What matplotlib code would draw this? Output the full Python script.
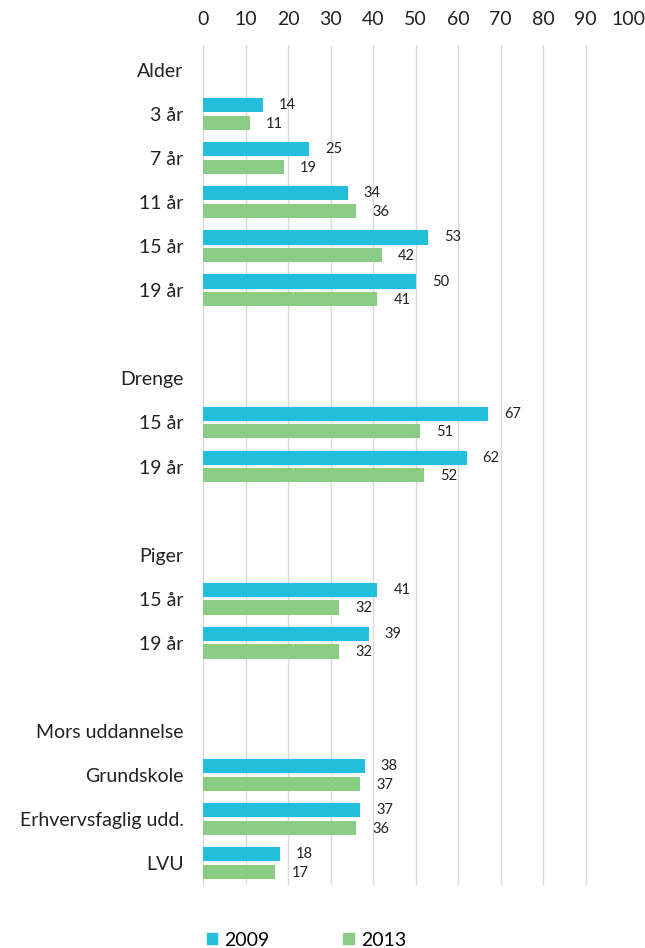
import matplotlib
matplotlib.use("Agg")
import matplotlib.pyplot as plt
import matplotlib.patches as mpatches
import numpy as np

plt.rcParams['font.family'] = ['Lato', 'DejaVu Sans']

rows = ["Alder", "3 år", "7 år", "11 år", "15 år", "19 år", "",
        "Drenge", "15 år", "19 år", "",
        "Piger", "15 år", "19 år", "",
        "Mors uddannelse", "Grundskole", "Erhvervsfaglig udd.", "LVU"]
v2009 = [None, 14, 25, 34, 53, 50, None,
         None, 67, 62, None,
         None, 41, 39, None,
         None, 38, 37, 18]
v2013 = [None, 11, 19, 36, 42, 41, None,
         None, 51, 52, None,
         None, 32, 32, None,
         None, 37, 36, 17]
series = ["2009", "2013"]
xticks = list(range(0, 101, 10))

c2009 = "#22BEDB"
c2013 = "#8BCC85"

fig = plt.figure(figsize=(6.45, 9.48), dpi=100)
ax = fig.add_axes([203/645, 1 - 885/948, (628 - 203)/645, (885 - 45)/948])

y = np.arange(len(rows))
h = 0.32
off = 0.2
for i, (a, b) in enumerate(zip(v2009, v2013)):
    if a is not None:
        ax.barh(i - off, a, height=h, color=c2009, zorder=3)
        ax.text(a + 3.8, i - off, f"{a}", va="center", ha="left", fontsize=10.5, color="#222222")
    if b is not None:
        ax.barh(i + off, b, height=h, color=c2013, zorder=3)
        ax.text(b + 3.8, i + off + 0.02, f"{b}", va="center", ha="left", fontsize=10.5, color="#222222")

ax.set_xlim(0, 100)
ax.set_ylim(len(rows) - 0.5, -0.57)
ax.set_xticks(xticks)
ax.xaxis.tick_top()
ax.tick_params(axis="x", length=0, pad=12, labelsize=14, labelcolor="#222222")
ax.set_yticks(y)
ax.set_yticklabels(rows)
ax.tick_params(axis="y", length=0, pad=14, labelsize=14, labelcolor="#222222")
ax.grid(axis="x", color="#D9D9D9", linewidth=1, zorder=0)
for s in ax.spines.values():
    s.set_visible(False)

handles = [mpatches.Patch(color=c2009, label=series[0]),
           mpatches.Patch(color=c2013, label=series[1])]
fig.legend(handles=handles, loc="center", bbox_to_anchor=(0.475, 1 - 940/948),
           ncol=2, frameon=False, fontsize=14, handlelength=0.55, handleheight=0.55,
           handletextpad=0.35, columnspacing=3.8, borderpad=0, borderaxespad=0)

fig.savefig("out.png", dpi=100)
